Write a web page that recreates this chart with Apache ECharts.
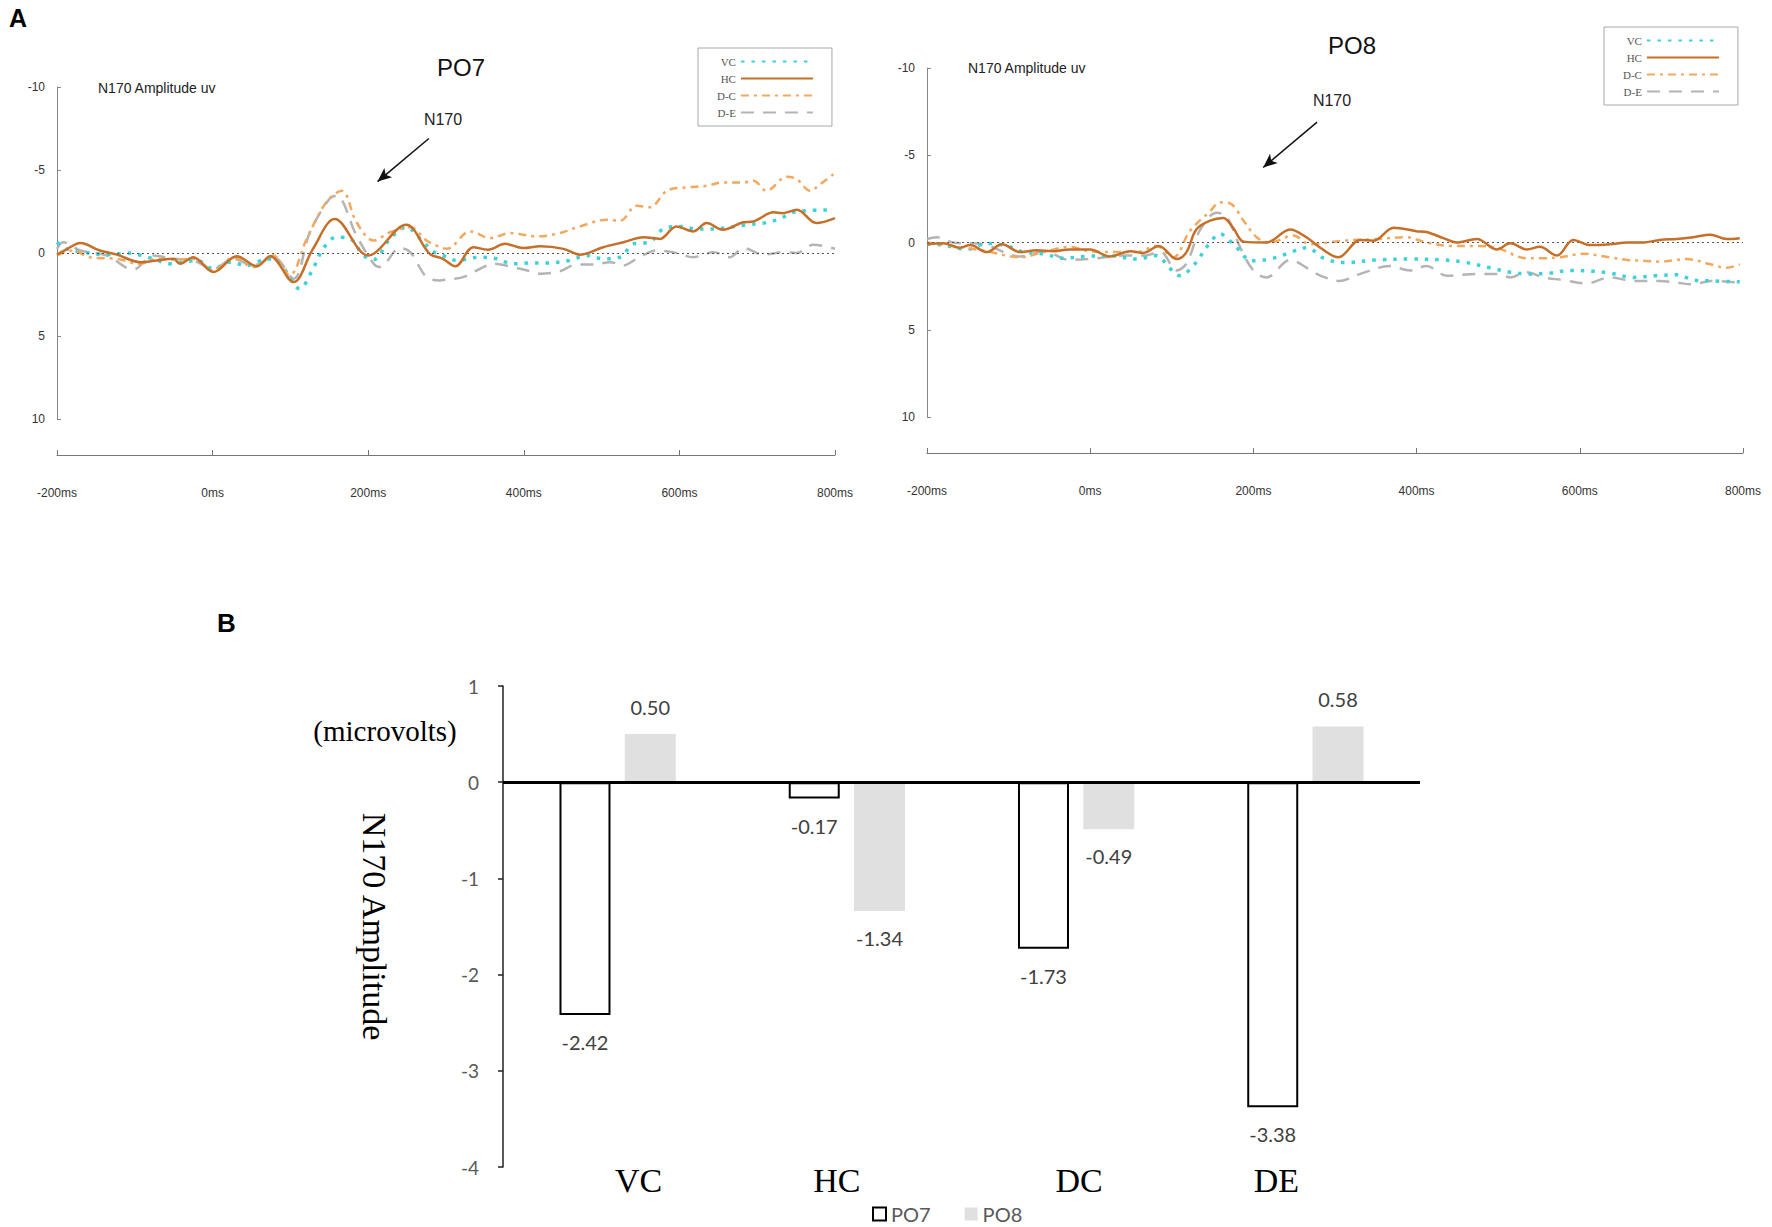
<!DOCTYPE html>
<html><head><meta charset="utf-8">
<script src="https://cdn.jsdelivr.net/npm/echarts@6/dist/echarts.min.js"></script>
<style>html,body{margin:0;padding:0;background:#fff}#c{width:1772px;height:1227px}</style>
</head><body><div id="c"></div>
<script>
// ---------- DATA ----------
const waveNames = ['VC', 'HC', 'D-C', 'D-E'];
const timeTickUnit = 'ms';

// PO7 waveforms: [time ms, amplitude uV]
const po7VC = [[-200,-0.65],[-188,-0.25],[-166,-0.05],[-136,0.1],[-110,0],[-76,0.35],[-55,0.65],[-38,0.55],[-20,0.45],[1,0.95],[22,0.55],[44,0.75],[70,0.35],[87,0.65],[112,2.15],[129,0.95],[142,-0.25],[159,-0.95],[177,-0.85],[194,0.15],[207,0.4],[228,-0.85],[249,-1.55],[271,-0.65],[285,-0.05],[296,0.15],[314,0.45],[344,0.25],[365,0.35],[386,0.65],[408,0.6],[429,0.6],[459,0.45],[481,0.15],[502,0.35],[524,0.25],[541,-0.55],[562,-0.65],[579,-1.45],[601,-1.6],[622,-1.45],[644,-1.45],[665,-1.55],[686,-1.7],[708,-1.8],[729,-2.05],[746,-2.45],[763,-2.55],[798,-2.6]];
const po7HC = [[-200,0.1],[-185,-0.3],[-170,-0.6],[-145,-0.15],[-123,0.1],[-93,0.55],[-72,0.45],[-50,0.35],[-42,0.65],[-25,0.25],[1,1.15],[31,0.2],[57,0.8],[74,0.2],[104,1.75],[129,-0.25],[157,-2.05],[200,0.15],[249,-1.7],[279,0.05],[296,0.35],[312,0.8],[335,-0.35],[354,-0.2],[376,-0.55],[399,-0.3],[421,-0.4],[451,-0.25],[472,0.1],[502,-0.35],[528,-0.65],[554,-0.95],[575,-0.85],[596,-1.6],[618,-1.3],[635,-1.8],[656,-1.4],[682,-1.85],[695,-1.9],[721,-2.45],[733,-2.4],[751,-2.6],[776,-1.8],[800,-2.1]];
const po7DC = [[-200,0.15],[-179,-0.15],[-158,0.25],[-123,0.35],[-93,0.65],[-72,0.35],[-50,0.4],[-25,0.35],[1,1.05],[27,0.25],[52,0.85],[78,0.15],[99,1.35],[121,-0.85],[146,-3.05],[166,-3.75],[185,-1.85],[207,-0.75],[228,-1.25],[254,-1.55],[275,-0.75],[290,-0.4],[301,-0.25],[331,-1.3],[357,-0.9],[382,-1.2],[416,-1.0],[442,-1.15],[472,-1.6],[506,-2.0],[524,-1.95],[545,-2.85],[562,-2.75],[584,-3.75],[609,-3.95],[635,-4.05],[656,-4.25],[682,-4.25],[695,-4.35],[712,-3.75],[738,-4.6],[751,-4.45],[768,-3.75],[781,-4.15],[798,-4.75]];
const po7DE = [[-200,-0.25],[-192,-0.65],[-170,-0.15],[-136,0.15],[-102,1.0],[-76,0.15],[-50,0.35],[-25,0.45],[1,0.95],[27,0.35],[52,0.75],[78,0.25],[104,1.55],[125,-1.25],[150,-3.25],[159,-3.45],[185,-1.05],[207,0.65],[215,0.85],[241,-0.3],[254,-0.05],[275,1.45],[292,1.65],[301,1.6],[322,1.45],[344,0.95],[361,0.65],[386,0.85],[408,1.1],[421,1.25],[446,1.1],[468,0.7],[489,0.7],[511,0.55],[528,0.75],[545,0.35],[571,-0.15],[592,-0.05],[618,0.25],[644,-0.05],[665,0.25],[682,-0.3],[708,0.1],[733,-0.05],[751,0],[772,-0.5],[800,-0.25]];

// PO8 waveforms
const po8VC = [[-200,0.1],[-180,0.15],[-151,0.4],[-127,0.05],[-102,0.2],[-82,0.55],[-57,0.65],[-33,0.9],[-8,0.8],[24,0.75],[57,0.95],[81,0.75],[98,1.5],[110,1.9],[126,1.35],[147,0],[159,-0.5],[171,-0.1],[184,0.5],[196,1.05],[220,0.95],[241,0.65],[265,0.3],[275,0.5],[286,0.9],[310,1.15],[351,1.0],[392,0.95],[433,1.0],[461,1.15],[490,1.45],[515,1.7],[539,1.8],[564,1.75],[588,1.6],[617,1.65],[637,1.75],[666,2.0],[694,1.9],[719,1.85],[739,2.15],[760,2.2],[796,2.25]];
const po8HC = [[-200,0.1],[-180,0.05],[-160,0.3],[-147,0.15],[-127,0.55],[-108,0.1],[-86,0.55],[-66,0.45],[-45,0.5],[-25,0.4],[0,0.4],[24,0.8],[49,0.5],[65,0.6],[84,0.2],[106,0.95],[118,0.55],[130,-0.75],[147,-1.25],[163,-1.4],[175,-0.85],[188,-0.05],[216,0],[245,-0.75],[265,-0.3],[282,0.3],[304,0.85],[331,-0.15],[347,-0.1],[372,-0.85],[400,-0.65],[412,-0.6],[433,-0.25],[449,0],[474,-0.2],[498,0.4],[515,0.05],[535,0.4],[551,0.25],[572,0.75],[592,-0.15],[613,0.15],[637,0.1],[658,0],[678,0],[698,-0.15],[719,-0.2],[739,-0.3],[760,-0.45],[780,-0.2],[796,-0.25]];
const po8DC = [[-200,0],[-160,0.25],[-127,0.5],[-86,0.85],[-57,0.55],[-25,0.25],[0,0.5],[32,0.55],[57,0.55],[81,0.2],[102,0.85],[122,-0.65],[147,-1.8],[159,-2.3],[171,-2.25],[188,-1.25],[204,-0.3],[220,0],[249,-0.4],[269,0.1],[310,-0.1],[351,-0.2],[388,-0.3],[412,0],[445,0.2],[474,0.2],[498,0.3],[535,0.9],[555,0.9],[576,0.85],[604,0.65],[637,0.85],[658,1.0],[678,1.05],[698,1.1],[731,0.95],[760,1.25],[780,1.45],[796,1.25]];
const po8DE = [[-200,-0.2],[-188,-0.3],[-168,0],[-131,0.1],[-86,0.8],[-57,0.5],[-25,1.0],[8,0.9],[41,0.75],[65,0.75],[86,0.55],[106,1.6],[118,1.2],[135,-0.75],[155,-1.7],[167,-1.5],[184,0.3],[200,1.6],[216,2.0],[245,1.0],[269,1.55],[282,1.9],[306,2.2],[331,1.8],[367,1.35],[392,1.6],[412,1.35],[437,1.9],[474,1.8],[498,1.8],[515,2.0],[535,1.7],[555,2.0],[580,2.15],[608,2.35],[637,2.0],[666,2.2],[698,2.2],[719,2.3],[739,2.4],[760,2.2],[796,2.3]];

// N170 arrow annotation (data coords: time, amplitude)
const arrowFrom = [278, -6.9];
const arrowTo = [212, -4.3];

// Panel B
const categories = ['VC', 'HC', 'DC', 'DE'];
const po7Values = [-2.42, -0.17, -1.73, -3.38];
const po8Values = [0.50, -1.34, -0.49, 0.58];

// ---------- STYLES ----------
const SANS = 'Liberation Sans';
const SERIF = 'Liberation Serif';
const NUM = 'Lato';
const waveStyles = {
  'VC':  {color: '#3cd2d8', type: [3.5, 7], width: 3.5, cap: 'butt', z: 3},
  'HC':  {color: '#c56f28', type: 'solid', width: 2.5, cap: 'butt', z: 6},
  'D-C': {color: '#f2a85e', type: [8, 5, 3, 5], width: 2.5, cap: 'butt', z: 4},
  'D-E': {color: '#b4b4b4', type: [13, 9], width: 2.5, cap: 'butt', z: 2}
};
// small horizontal nudges of the category labels as drawn in the reference
const catLabelPad = {VC: [0, 0, 0, 42], HC: [0, 20, 0, 0], DC: [0, 0, 0, 6], DE: [0, 58, 0, 0]};

function waveSeries(name, data, idx, extra) {
  const s = waveStyles[name];
  return Object.assign({
    type: 'line', name: name, xAxisIndex: idx, yAxisIndex: idx,
    data: data, smooth: 0.35, symbol: 'none', showSymbol: false, z: s.z,
    lineStyle: {color: s.color, type: s.type, width: s.width, cap: s.cap},
    itemStyle: {color: s.color},
    emphasis: {disabled: true}, animation: false
  }, extra || {});
}
function zeroLine() {
  return {silent: true, symbol: 'none', label: {show: false},
    lineStyle: {color: '#555', type: [2, 3], width: 1}, data: [{yAxis: 0}]};
}
function arrowLine() {
  return {silent: true, symbol: ['none', 'arrow'], symbolSize: [9, 14], label: {show: false},
    lineStyle: {color: '#111', type: 'solid', width: 1.5},
    data: [[{coord: arrowFrom}, {coord: arrowTo}]]};
}
function waveX(idx) {
  return {type: 'value', gridIndex: idx, min: -200, max: 800, interval: 200, offset: 36,
    axisLine: {onZero: false, lineStyle: {color: '#777', width: 1}},
    axisTick: {inside: true, length: 5, lineStyle: {color: '#777'}},
    axisLabel: {formatter: v => v + timeTickUnit, margin: 32, fontSize: 12, color: '#333', fontFamily: SANS},
    splitLine: {show: false}};
}
function waveY(idx) {
  return {type: 'value', gridIndex: idx, min: -10, max: 10, interval: 5, inverse: true,
    axisLine: {show: true, onZero: false, lineStyle: {color: '#888', width: 1}},
    axisTick: {show: true, inside: true, length: 4, lineStyle: {color: '#888'}},
    axisLabel: {margin: 12, fontSize: 12, color: '#333', fontFamily: SANS},
    splitLine: {show: false}};
}
function waveLegend(left, top) {
  return {data: waveNames, orient: 'vertical', left: left, top: top, align: 'right',
    padding: [8, 18, 8, 19], itemWidth: 72, itemHeight: 10, itemGap: 6,
    borderColor: '#a8a8a8', borderWidth: 1, selectedMode: false,
    itemStyle: {opacity: 0},
    textStyle: {fontFamily: SERIF, fontSize: 11, color: '#555', width: 26}};
}

const chart = echarts.init(document.getElementById('c'), null, {renderer: 'svg'});

const catRich = {};
categories.forEach(c => { catRich[c] = {fontSize: 34, color: '#000', fontFamily: SERIF, padding: catLabelPad[c]}; });

const option = {
  backgroundColor: '#fff',
  animation: false,
  grid: [
    {left: 57, top: 87, width: 778, height: 332},
    {left: 927, top: 68, width: 816, height: 349},
    {left: 503, top: 686, width: 917, height: 481}
  ],
  xAxis: [
    waveX(0), waveX(1),
    {type: 'category', gridIndex: 2, data: categories,
      axisLine: {show: false}, axisTick: {show: false},
      axisLabel: {margin: -4, fontSize: 34, color: '#000', fontFamily: SERIF,
        formatter: v => '{' + v + '|' + v + '}', rich: catRich}}
  ],
  yAxis: [
    waveY(0), waveY(1),
    {type: 'value', gridIndex: 2, min: -4, max: 1, interval: 1,
      name: 'N170 Amplitude', nameLocation: 'middle', nameRotate: -90, nameGap: 112,
      nameTextStyle: {fontFamily: SERIF, fontSize: 34, color: '#000'},
      axisLine: {show: true, lineStyle: {color: '#222', width: 1.5}},
      axisTick: {show: true, length: 5, lineStyle: {color: '#222', width: 1.5}},
      axisLabel: {margin: 24, fontSize: 19, color: '#595959', fontFamily: NUM},
      splitLine: {show: false}}
  ],
  legend: [
    waveLegend(698, 48),
    waveLegend(1604, 27),
    {data: ['PO7', 'PO8'], left: 872, top: 1203, padding: 0, icon: 'rect', itemWidth: 13, itemHeight: 13,
      itemGap: 34, selectedMode: false,
      textStyle: {fontFamily: NUM, fontSize: 20, color: '#595959', lineHeight: 22}}
  ],
  series: [
    waveSeries('D-E', po7DE, 0, {markLine: arrowLine()}),
    waveSeries('VC', po7VC, 0),
    waveSeries('D-C', po7DC, 0),
    waveSeries('HC', po7HC, 0, {markLine: zeroLine()}),
    waveSeries('D-E', po8DE, 1, {markLine: arrowLine()}),
    waveSeries('VC', po8VC, 1),
    waveSeries('D-C', po8DC, 1),
    waveSeries('HC', po8HC, 1, {markLine: zeroLine()}),
    {type: 'bar', name: 'PO7', xAxisIndex: 2, yAxisIndex: 2, barWidth: 51, barGap: '28%',
      data: po7Values.map(v => ({value: v, label: {position: v < 0 ? 'bottom' : 'top'}})),
      itemStyle: {color: '#ffffff', borderColor: '#000', borderWidth: 2},
      label: {show: true, distance: 17, formatter: p => Number(p.value).toFixed(2),
        fontSize: 20, color: '#404040', fontFamily: NUM},
      emphasis: {disabled: true},
      markLine: {silent: true, symbol: 'none', label: {show: false},
        lineStyle: {color: '#000', type: 'solid', width: 3}, data: [{yAxis: 0}]}},
    {type: 'bar', name: 'PO8', xAxisIndex: 2, yAxisIndex: 2, barWidth: 51,
      data: po8Values.map(v => ({value: v, label: {position: v < 0 ? 'bottom' : 'top'}})),
      itemStyle: {color: '#e0e0e0'},
      label: {show: true, distance: 17, formatter: p => Number(p.value).toFixed(2),
        fontSize: 20, color: '#404040', fontFamily: NUM},
      emphasis: {disabled: true}}
  ],
  graphic: [
    {type: 'text', x: 9, y: 18, style: {text: 'A', font: 'bold 25px ' + SANS, fill: '#000', textVerticalAlign: 'middle'}},
    {type: 'text', x: 217, y: 623, style: {text: 'B', font: 'bold 26px ' + SANS, fill: '#000', textVerticalAlign: 'middle'}},
    {type: 'text', x: 461, y: 67, style: {text: 'PO7', font: '24px ' + SANS, fill: '#111', textAlign: 'center', textVerticalAlign: 'middle'}},
    {type: 'text', x: 1352, y: 45, style: {text: 'PO8', font: '24px ' + SANS, fill: '#111', textAlign: 'center', textVerticalAlign: 'middle'}},
    {type: 'text', x: 98, y: 88, style: {text: 'N170 Amplitude uv', font: '14px ' + SANS, fill: '#222', textVerticalAlign: 'middle'}},
    {type: 'text', x: 968, y: 68, style: {text: 'N170 Amplitude uv', font: '14px ' + SANS, fill: '#222', textVerticalAlign: 'middle'}},
    {type: 'text', x: 443, y: 119, style: {text: 'N170', font: '16px ' + SANS, fill: '#222', textAlign: 'center', textVerticalAlign: 'middle'}},
    {type: 'text', x: 1332, y: 100, style: {text: 'N170', font: '16px ' + SANS, fill: '#222', textAlign: 'center', textVerticalAlign: 'middle'}},
    {type: 'text', x: 385, y: 731, style: {text: '(microvolts)', font: '29px ' + SERIF, fill: '#000', textAlign: 'center', textVerticalAlign: 'middle'}}
  ]
};
chart.setOption(option);
</script>
</body></html>
